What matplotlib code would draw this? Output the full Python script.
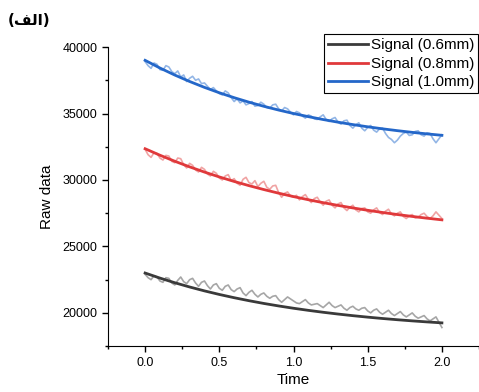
import matplotlib.pyplot as plt
from matplotlib.ticker import MultipleLocator

plt.rcParams['font.family'] = ['Liberation Sans', 'DejaVu Sans']

# measured signals, sampled evenly from t=0 to t=2
raw_06 = [22900, 22650, 22500, 22800, 22700, 22400, 22300, 22650, 22600, 22250,
          22100, 22450, 22700, 22350, 22200, 22500, 22600, 22250, 22000, 22300,
          22400, 22050, 21800, 22100, 22200, 21850, 21700, 22000, 22100, 21750,
          21600, 21800, 21900, 21500, 21300, 21550, 21700, 21400, 21200, 21400,
          21500, 21250, 21100, 21250, 21300, 21000, 20800, 21000, 21200, 21050,
          20900, 20750, 20700, 20850, 21000, 20750, 20600, 20650, 20700, 20550,
          20400, 20600, 20800, 20550, 20400, 20500, 20600, 20350, 20200, 20400,
          20500, 20300, 20200, 20350, 20400, 20150, 20000, 20200, 20300, 20050,
          19900, 20050, 20200, 19950, 19800, 19950, 20100, 19850, 19700, 19850,
          20000, 19750, 19600, 19700, 19800, 19550, 19400, 19550, 19700, 19300, 18900]
raw_08 = [32300, 31900, 31700, 32050, 32000, 31650, 31500, 31850, 31800, 31400,
          31300, 31650, 31600, 31150, 30900, 31250, 31100, 30750, 30600, 30950,
          30800, 30450, 30300, 30650, 30500, 30150, 30000, 30300, 30400, 29950,
          30100, 29750, 29600, 30050, 30200, 29800, 29700, 29950, 29500, 29750,
          29900, 29450, 29300, 29550, 29600, 29050, 28700, 29000, 29100, 28800,
          28700, 28850, 28500, 28750, 28900, 28550, 28300, 28600, 28700, 28350,
          28100, 28400, 28500, 28100, 27900, 28200, 28300, 27900, 27700, 27950,
          28100, 27750, 27600, 27850, 27900, 27600, 27500, 27750, 27900, 27550,
          27400, 27650, 27800, 27450, 27300, 27500, 27600, 27250, 27100, 27300,
          27400, 27150, 27200, 27400, 27500, 27250, 27100, 27300, 27600, 27350, 27100]
raw_10 = [38900, 38600, 38400, 38800, 38700, 38300, 38250, 38600, 38500, 38150,
          38000, 38200, 37750, 37900, 37400, 37650, 37800, 37500, 37600, 37250,
          37300, 37050, 36800, 36950, 36700, 36500, 36400, 36700, 36550, 36200,
          35900, 36100, 35800, 35950, 35650, 35750, 35900, 35550, 35600, 35850,
          35700, 35450, 35400, 35650, 35700, 35350, 35200, 35450, 35350, 35100,
          34900, 35150, 35050, 34800, 34650, 34900, 34800, 34600, 34550, 34750,
          34900, 34550, 34400, 34600, 34700, 34350, 34200, 34450, 34500, 34100,
          33900, 34150, 34300, 33900, 33700, 33950, 34100, 33750, 33600, 33850,
          33900, 33500, 33200, 33050, 32800, 33000, 33300, 33500, 33600, 33350,
          33400, 33650, 33700, 33400, 33300, 33550, 33500, 33100, 32800, 33100, 33400]

# fitted curves at t = 0.0, 0.1, ..., 2.0
t_fit = [i * 0.1 for i in range(21)]
fit_06 = [23000, 22619, 22269, 21950, 21656, 21388, 21143, 20918, 20711, 20523,
          20350, 20192, 20047, 19914, 19792, 19681, 19579, 19486, 19400, 19322, 19250]
fit_08 = [32350, 31862, 31409, 30987, 30594, 30229, 29889, 29573, 29279, 29005,
          28750, 28513, 28293, 28087, 27897, 27719, 27554, 27400, 27257, 27124, 27000]
fit_10 = [39000, 38422, 37893, 37409, 36966, 36561, 36191, 35852, 35542, 35259,
          35000, 34763, 34546, 34348, 34166, 34000, 33848, 33709, 33582, 33466, 33360]

labels = ["Signal (0.6mm)", "Signal (0.8mm)", "Signal (1.0mm)"]


def time_axis(vals):
    n = len(vals)
    return [2.0 * i / (n - 1) for i in range(n)]


fig = plt.figure(figsize=(4.79, 3.92), dpi=100)
ax = fig.add_axes([0.2255, 0.117, 0.7745, 0.763])

ax.plot(time_axis(raw_06), raw_06, color="#a6a6a6", linewidth=1.2)
ax.plot(time_axis(raw_08), raw_08, color="#f0a3a3", linewidth=1.2)
ax.plot(time_axis(raw_10), raw_10, color="#93b6e6", linewidth=1.2)

ax.plot(t_fit, fit_06, color="#3a3a3a", linewidth=2.0, label=labels[0])
ax.plot(t_fit, fit_08, color="#e0393b", linewidth=2.0, label=labels[1])
ax.plot(t_fit, fit_10, color="#2467c9", linewidth=2.0, label=labels[2])

ax.set_xlim(-0.25, 2.25)
ax.set_ylim(17500, 40000)
ax.xaxis.set_major_locator(MultipleLocator(0.5))
ax.xaxis.set_minor_locator(MultipleLocator(0.25))
ax.yaxis.set_major_locator(MultipleLocator(5000))
ax.yaxis.set_minor_locator(MultipleLocator(2500))
ax.tick_params(which="major", direction="out", length=4, width=1, labelsize=9)
ax.tick_params(which="minor", direction="out", length=2.5, width=1)

ax.spines["right"].set_color("None")
ax.spines["top"].set_color("None")

ax.set_xlabel("Time", fontsize=11, labelpad=3)
ax.set_ylabel("Raw data", fontsize=11, labelpad=6)

leg = fig.legend(loc="upper right", bbox_to_anchor=(0.998, 0.912), fontsize=11,
                 frameon=True, fancybox=False, edgecolor="black", framealpha=1,
                 handlelength=2.6, handletextpad=0.2, borderpad=0.25,
                 labelspacing=0.3, borderaxespad=0)
leg.get_frame().set_linewidth(0.8)

# "(الف)" written with Arabic presentation forms in visual order
fig.text(0.016, 0.947, "(\uFED2\uFEDF\uFE8D)", fontsize=11, fontweight="bold",
         family=["DejaVu Sans"], va="center", ha="left")

plt.savefig("out.png", dpi=100)
plt.close()
